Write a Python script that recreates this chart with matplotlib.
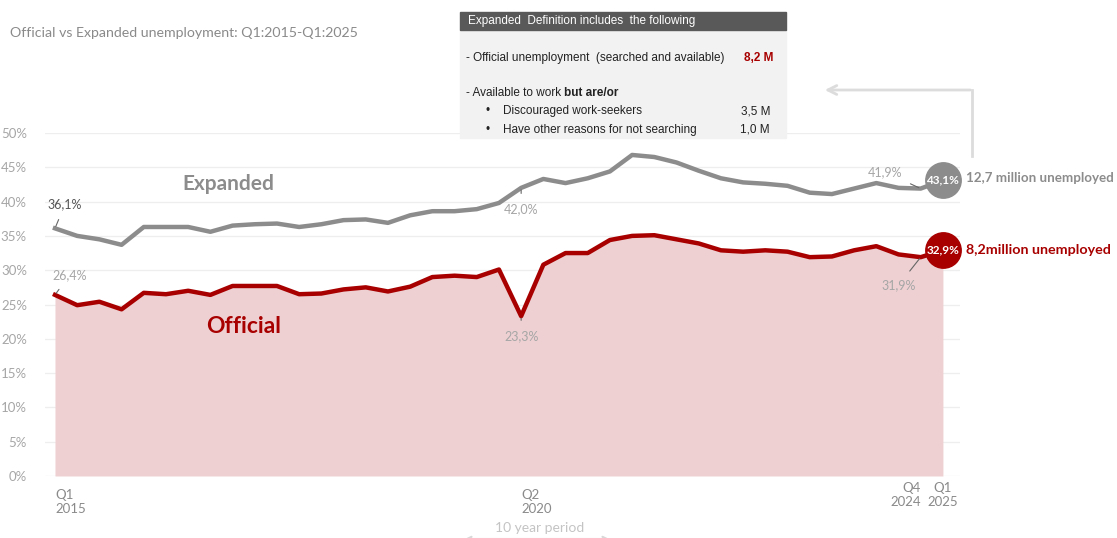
import matplotlib
matplotlib.use("Agg")
import matplotlib.pyplot as plt
from matplotlib.patches import Rectangle, FancyArrowPatch
import numpy as np

# quarterly unemployment rates, Q1 2015 .. Q1 2025 (percent)
quarters = ["Q1 2015", "Q2 2015", "Q3 2015", "Q4 2015",
            "Q1 2016", "Q2 2016", "Q3 2016", "Q4 2016",
            "Q1 2017", "Q2 2017", "Q3 2017", "Q4 2017",
            "Q1 2018", "Q2 2018", "Q3 2018", "Q4 2018",
            "Q1 2019", "Q2 2019", "Q3 2019", "Q4 2019",
            "Q1 2020", "Q2 2020", "Q3 2020", "Q4 2020",
            "Q1 2021", "Q2 2021", "Q3 2021", "Q4 2021",
            "Q1 2022", "Q2 2022", "Q3 2022", "Q4 2022",
            "Q1 2023", "Q2 2023", "Q3 2023", "Q4 2023",
            "Q1 2024", "Q2 2024", "Q3 2024", "Q4 2024",
            "Q1 2025"]
official = [26.4, 24.9, 25.4, 24.3, 26.7, 26.5, 27.0, 26.4, 27.7, 27.7,
            27.7, 26.5, 26.6, 27.2, 27.5, 26.9, 27.6, 29.0, 29.2, 29.0,
            30.1, 23.3, 30.8, 32.5, 32.5, 34.4, 35.0, 35.1, 34.5, 33.9,
            32.9, 32.7, 32.9, 32.7, 31.9, 32.0, 32.9, 33.5, 32.3, 31.9,
            32.9]
expanded = [36.1, 35.0, 34.5, 33.7, 36.3, 36.3, 36.3, 35.6, 36.5, 36.7,
            36.8, 36.3, 36.7, 37.3, 37.4, 36.9, 38.0, 38.6, 38.6, 38.9,
            39.8, 42.0, 43.3, 42.7, 43.4, 44.4, 46.8, 46.5, 45.7, 44.5,
            43.4, 42.8, 42.6, 42.3, 41.3, 41.1, 41.9, 42.7, 42.0, 41.9,
            43.1]
yticks = [0, 5, 10, 15, 20, 25, 30, 35, 40, 45, 50]
xlabels = {0: ("Q1\n2015", "left"), 21: ("Q2\n2020", "left"),
           39: ("Q4\n2024", "right"), 40: ("Q1\n2025", "center")}

W, H = 1117, 538
RED = "#a80000"
GREY = "#8c8c8c"
FILL = "#eed0d2"
LIGHT = "#a6a6a6"
FONT = ["Lato", "DejaVu Sans"]
BOXFONT = ["Liberation Sans", "DejaVu Sans"]


def px(x, y):
    return x / W, 1 - y / H


def pct(v):
    return f"{v:.1f}%".replace(".", ",")


plt.rcParams["font.family"] = FONT
fig = plt.figure(figsize=(W / 100, H / 100), dpi=100)
fig.patch.set_facecolor("white")
ax = fig.add_axes([45 / W, 1 - 476 / H, (960 - 45) / W, (476 - 133) / H])
x = np.arange(len(quarters))

ax.set_xlim(-0.45, 40.77)
ax.set_ylim(0, 50)
for s in ax.spines.values():
    s.set_visible(False)
ax.set_xticks([])
ax.set_yticks(yticks)
ax.set_yticklabels([f"{v}%" for v in yticks], color=LIGHT, fontsize=9.5)
ax.tick_params(axis="y", length=0, pad=13)
for v in yticks:
    ax.axhline(v, color="#eeeeee", lw=0.9, zorder=0)

ax.fill_between(x, 0, official, color=FILL, lw=0, zorder=1)
ax.plot(x, expanded, color=GREY, lw=3.2, solid_joinstyle="round", zorder=3)
ax.plot(x, official, color=RED, lw=3.2, solid_joinstyle="round", zorder=3)

# series names
ax.text(7.8, 42.5, "Expanded", color=GREY, fontsize=15, fontweight="bold",
        ha="center", va="center")
ax.text(8.5, 21.8, "Official", color=RED, fontsize=16.5, fontweight="bold",
        ha="center", va="center")

# value callouts: (index, series, text position, text colour)
callouts = [(0, expanded, (0.45, 39.6), "#555555"),
            (0, official, (0.65, 29.3), LIGHT),
            (21, expanded, (21, 38.9), LIGHT),
            (21, official, (21, 20.4), LIGHT),
            (39, expanded, (37.4, 44.3), LIGHT),
            (39, official, (38.0, 27.8), LIGHT)]
for i, series, pos, col in callouts:
    ax.annotate(pct(series[i]), xy=(i, series[i]), xytext=pos, color=col,
                fontsize=9, ha="center", va="center",
                arrowprops=dict(arrowstyle="-", color="#666666", lw=0.8,
                                shrinkA=5, shrinkB=1.5))

# end-point bubbles
ax.scatter([40], [expanded[-1]], s=650, color=GREY, zorder=5, clip_on=False)
ax.scatter([40], [official[-1]], s=650, color=RED, zorder=5, clip_on=False)
ax.text(40, expanded[-1], pct(expanded[-1]), color="white", fontsize=8.5,
        fontweight="bold", ha="center", va="center", zorder=6)
ax.text(40, official[-1], pct(official[-1]), color="white", fontsize=8.5,
        fontweight="bold", ha="center", va="center", zorder=6)
ax.text(41.05, expanded[-1] + 0.3, "12,7 million unemployed", color=GREY,
        fontsize=9.6, fontweight="bold", ha="left", va="center",
        clip_on=False)
ax.text(41.05, official[-1], "8,2million unemployed", color=RED,
        fontsize=10.3, fontweight="bold", ha="left", va="center",
        clip_on=False)

# quarter labels under the axis
for i, (lab, ha) in xlabels.items():
    yoff = -1.9 if i < 39 else -0.9
    ax.text(i, yoff, lab, color="#8a8a8a", fontsize=9.5, ha=ha, va="top",
            linespacing=1.2, clip_on=False)

fig.text(*px(540, 528), "10 year period", color="#c4c4c4", fontsize=10,
         ha="center", va="center")
fig.patches.append(FancyArrowPatch(px(462, 539), px(612, 539),
                                   transform=fig.transFigure,
                                   arrowstyle="<->", mutation_scale=8,
                                   color="#d8d8d8", lw=1.5))

# title
fig.text(*px(10, 33), "Official vs Expanded unemployment: Q1:2015-Q1:2025",
         color="#8a8a8a", fontsize=10.2, ha="left", va="center")

# definition box
bx0, bx1 = 460, 786
fig.patches.append(Rectangle(px(bx0, 138), (bx1 - bx0) / W, (138 - 30) / H,
                             transform=fig.transFigure, color="#f2f2f2",
                             zorder=2))
fig.patches.append(Rectangle(px(bx0, 30), (bx1 - bx0) / W, 18 / H,
                             transform=fig.transFigure, color="#595959",
                             zorder=2))
fig.text(*px(468, 21), "Expanded  Definition includes  the following",
         color="white", fontsize=8.5, family=BOXFONT, va="center", zorder=3)
fig.text(*px(466, 58), "- Official unemployment  (searched and available)",
         color="#222222", fontsize=8.5, family=BOXFONT, va="center", zorder=3)
fig.text(*px(773, 58), "8,2 M", color=RED, fontsize=8.5, family=BOXFONT,
         fontweight="bold", ha="right", va="center", zorder=3)
t = fig.text(*px(466, 93), "- Available to work ", color="#222222",
             fontsize=8.5, family=BOXFONT, va="center", zorder=3)
fig.canvas.draw()
bb = t.get_window_extent()
fig.text(bb.x1 / W, 1 - 93 / H, "but are/or", color="#222222", fontsize=8.5,
         family=BOXFONT, fontweight="bold", va="center", zorder=3)
for yy, lab, val in [(111, "Discouraged work-seekers", "3,5 M"),
                     (130, "Have other reasons for not searching", "1,0 M")]:
    fig.text(*px(486, yy), "\u2022", color="#222222", fontsize=8.5,
             family=BOXFONT, va="center", zorder=3)
    fig.text(*px(503, yy), lab, color="#222222", fontsize=8.5,
             family=BOXFONT, va="center", zorder=3)
    fig.text(*px(770, yy), val, color="#222222", fontsize=8.5,
             family=BOXFONT, ha="right", va="center", zorder=3)

# pointer from the expanded total back to the definition box
fig.lines.append(plt.Line2D([972 / W, 972 / W], [1 - 156 / H, 1 - 90 / H],
                            transform=fig.transFigure, color="#dcdcdc",
                            lw=2))
fig.patches.append(FancyArrowPatch(px(973, 90), px(822, 90),
                                   transform=fig.transFigure,
                                   arrowstyle="->", mutation_scale=16,
                                   color="#dcdcdc", lw=2))

fig.savefig("out.png", dpi=100, facecolor="white")
